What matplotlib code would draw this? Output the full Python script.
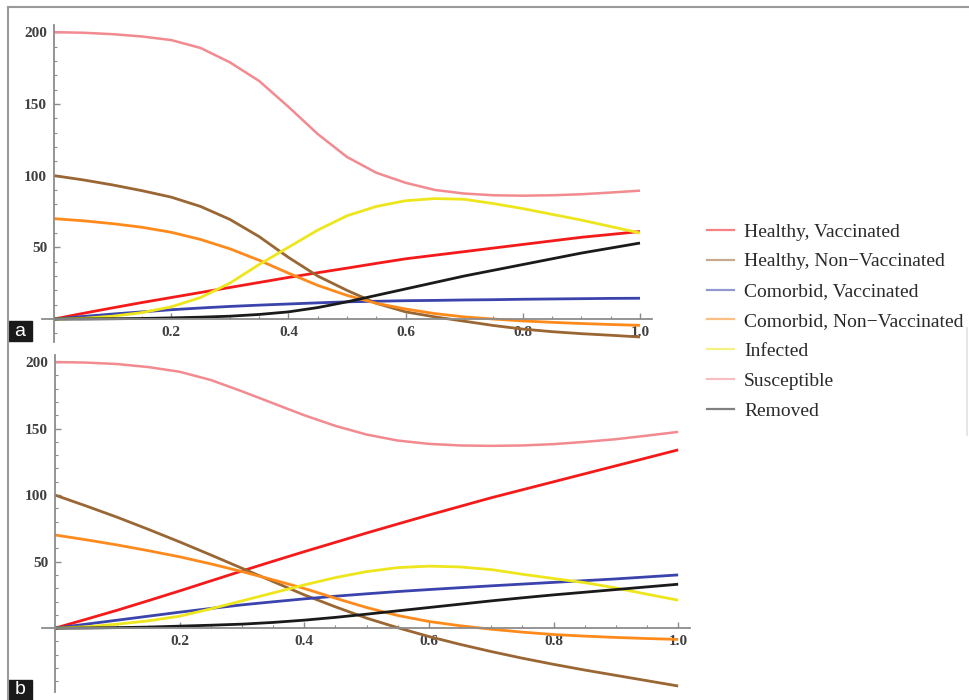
from matplotlib import pyplot as plt
from matplotlib.patches import Rectangle
from matplotlib.lines import Line2D
from matplotlib.ticker import MultipleLocator

# time axis (0 .. 1)
t = [0.00, 0.05, 0.10, 0.15, 0.20, 0.25, 0.30, 0.35, 0.40, 0.45, 0.50,
     0.55, 0.60, 0.65, 0.70, 0.75, 0.80, 0.85, 0.90, 0.95, 1.00]

names = ['Healthy, Vaccinated', 'Healthy, Non\u2212Vaccinated', 'Comorbid, Vaccinated',
         'Comorbid, Non\u2212Vaccinated', 'Infected', 'Susceptible', 'Removed']

# panel a
a_healthy_vacc = [0, 4, 7.8, 11.5, 15, 18.5, 22, 25.5, 29, 32.3, 35.5, 38.8, 42, 44.5, 47, 49.5, 52, 54.5, 57, 59, 61]
a_healthy_nonvacc = [100, 97, 93.5, 89.5, 85, 78.5, 69.5, 57.5, 43, 30, 20, 11, 5, 1.5, -1.5, -4.5, -7, -8.8, -10.2, -11.3, -12.5]
a_comorbid_vacc = [0, 1.8, 3.5, 5, 6.5, 7.7, 8.8, 9.7, 10.5, 11.3, 12, 12.4, 12.8, 13, 13.3, 13.5, 13.8, 14, 14.2, 14.4, 14.5]
a_comorbid_nonvacc = [70, 68.5, 66.5, 64, 60.5, 55.5, 49, 41, 32, 23.5, 16.5, 11, 7, 3.8, 1.5, 0, -1.3, -2.3, -3.1, -3.8, -4.4]
a_infected = [0, 0.5, 2, 4.5, 8.5, 15, 25, 38, 50, 62, 72, 78.5, 82.5, 84, 83.5, 80.5, 77, 73, 69, 64.5, 60]
a_susceptible = [200, 199.6, 198.6, 197, 194.5, 189, 179, 166, 148, 129, 113, 102, 95, 90, 87.5, 86.3, 86, 86.3, 87, 88.2, 89.5]
a_removed = [0, 0.05, 0.2, 0.4, 0.8, 1.3, 2, 3.2, 5, 8, 12, 16.5, 21, 25.5, 30, 34, 38, 42, 46, 49.5, 53]

# panel b
b_healthy_vacc = [0, 6.7, 13.5, 20.7, 28, 35.5, 43, 50.3, 57.5, 64.5, 71.5, 78.3, 85, 91.5, 98, 104, 110, 116, 122, 128, 134]
b_healthy_nonvacc = [100, 91.8, 83.3, 74.2, 64.8, 55, 45, 35, 25, 16, 7.5, 0.3, -6.3, -12.2, -17.6, -22.6, -27.2, -31.5, -35.5, -39.5, -43.5]
b_comorbid_vacc = [0, 3, 6, 9, 12, 14.8, 17.5, 19.8, 22, 24, 25.8, 27.5, 29, 30.4, 31.8, 33.1, 34.4, 35.7, 37, 38.5, 40]
b_comorbid_nonvacc = [70, 66.4, 62.5, 58.2, 53.6, 48.3, 42.5, 36.3, 29.8, 22.5, 15.5, 9.5, 5, 1.8, -0.8, -3, -4.8, -6, -7, -7.8, -8.5]
b_infected = [0, 1, 3, 5.5, 9, 14.5, 20.5, 26.5, 32.5, 38, 42.5, 45.5, 46.6, 46, 44, 40.5, 37.3, 34.2, 30.2, 25.5, 21]
b_susceptible = [200, 199.6, 198.5, 196.2, 192.7, 186.5, 178, 169, 160, 152, 145.5, 141, 138.5, 137.3, 137, 137.3, 138.3, 140, 142, 144.7, 147.5]
b_removed = [0, 0.1, 0.4, 0.8, 1.5, 2.2, 3, 4.3, 6, 8.1, 10.5, 13, 15.5, 18, 20.5, 22.8, 25, 27, 29, 31, 33]

colors = ['#F51A1A', '#9A6633', '#3B43AC', '#FF8A1C', '#EEE61C', '#F28A90', '#1A1A1A']

W, H = 970, 700
fig = plt.figure(figsize=(W / 100, H / 100), dpi=100)

def px_axes(l, t_, r, b):
    return fig.add_axes([l / W, 1 - b / H, (r - l) / W, (b - t_) / H])

panels = [
    (px_axes(42, 25, 652, 342), (-0.0205, 1.0205), (-16, 205),
     [a_healthy_vacc, a_healthy_nonvacc, a_comorbid_vacc, a_comorbid_nonvacc,
      a_infected, a_susceptible, a_removed]),
    (px_axes(42, 355, 690, 692), (-0.021, 1.019), (-48, 205.3),
     [b_healthy_vacc, b_healthy_nonvacc, b_comorbid_vacc, b_comorbid_nonvacc,
      b_infected, b_susceptible, b_removed]),
]

for ax, xl, yl, series in panels:
    for s, c, n in zip(series, colors, names):
        lw = 1.8 if c == '#F28A90' else 2.0
        ax.plot(t, s, color=c, lw=lw, label=n, solid_capstyle='butt', solid_joinstyle='round')
    ax.set_xlim(*xl)
    ax.set_ylim(*yl)
    ax.patch.set_alpha(0)
    for side in ['top', 'right']:
        ax.spines[side].set_visible(False)
    ax.spines['left'].set_position(('data', 0))
    ax.spines['bottom'].set_position(('data', 0))
    for side in ['left', 'bottom']:
        ax.spines[side].set_color('#8c8c8c')
        ax.spines[side].set_linewidth(1.3)
    ax.set_xticks([0.2, 0.4, 0.6, 0.8, 1.0])
    ax.set_xticklabels(['0.2', '0.4', '0.6', '0.8', '1.0'])
    ax.xaxis.set_minor_locator(MultipleLocator(0.05))
    ax.set_yticks([50, 100, 150, 200])
    ax.yaxis.set_minor_locator(MultipleLocator(10))
    ax.tick_params(which='major', direction='in', length=4, width=1, color='#8c8c8c',
                   labelsize=11, labelcolor='#404040', pad=5)
    ax.tick_params(which='minor', direction='in', length=2.5, width=0.8, color='#8c8c8c')
    for lab in ax.get_xticklabels() + ax.get_yticklabels():
        lab.set_family('Liberation Serif')
        lab.set_fontweight('bold')

# legend
handles = [Line2D([], [], color=c, lw=1.6, alpha=0.55) for c in colors]
leg = fig.legend(handles, names, loc='upper left', bbox_to_anchor=(707 / W, 1 - 223 / H),
                 frameon=False, handlelength=1.4, handletextpad=0.5, labelspacing=0.63,
                 prop={'family': 'Liberation Serif', 'size': 14}, borderaxespad=0, borderpad=0)
for txt in leg.get_texts():
    txt.set_color('#2a2a2a')

# frame
fig.add_artist(Line2D([8 / W, 1], [1 - 7 / H, 1 - 7 / H], color='#9a9a9a', lw=1.5))
fig.add_artist(Line2D([8 / W, 8 / W], [0, 1 - 7 / H], color='#9a9a9a', lw=1.5))
fig.add_artist(Line2D([967 / W, 967 / W], [1 - 435 / H, 1 - 328 / H], color='#e0e0e0', lw=1.2))

# panel letters
for letter, top, bot in [('a', 321, 341), ('b', 680, 700)]:
    fig.add_artist(Rectangle((8 / W, 1 - bot / H), 24 / W, (bot - top) / H,
                             transform=fig.transFigure, color='#1a1a1a'))
    fig.text(20 / W, 1 - (top + bot) / 2 / H, letter, color='white', ha='center', va='center',
             fontsize=14, family='Liberation Sans')

plt.savefig('out.png', dpi=100)
